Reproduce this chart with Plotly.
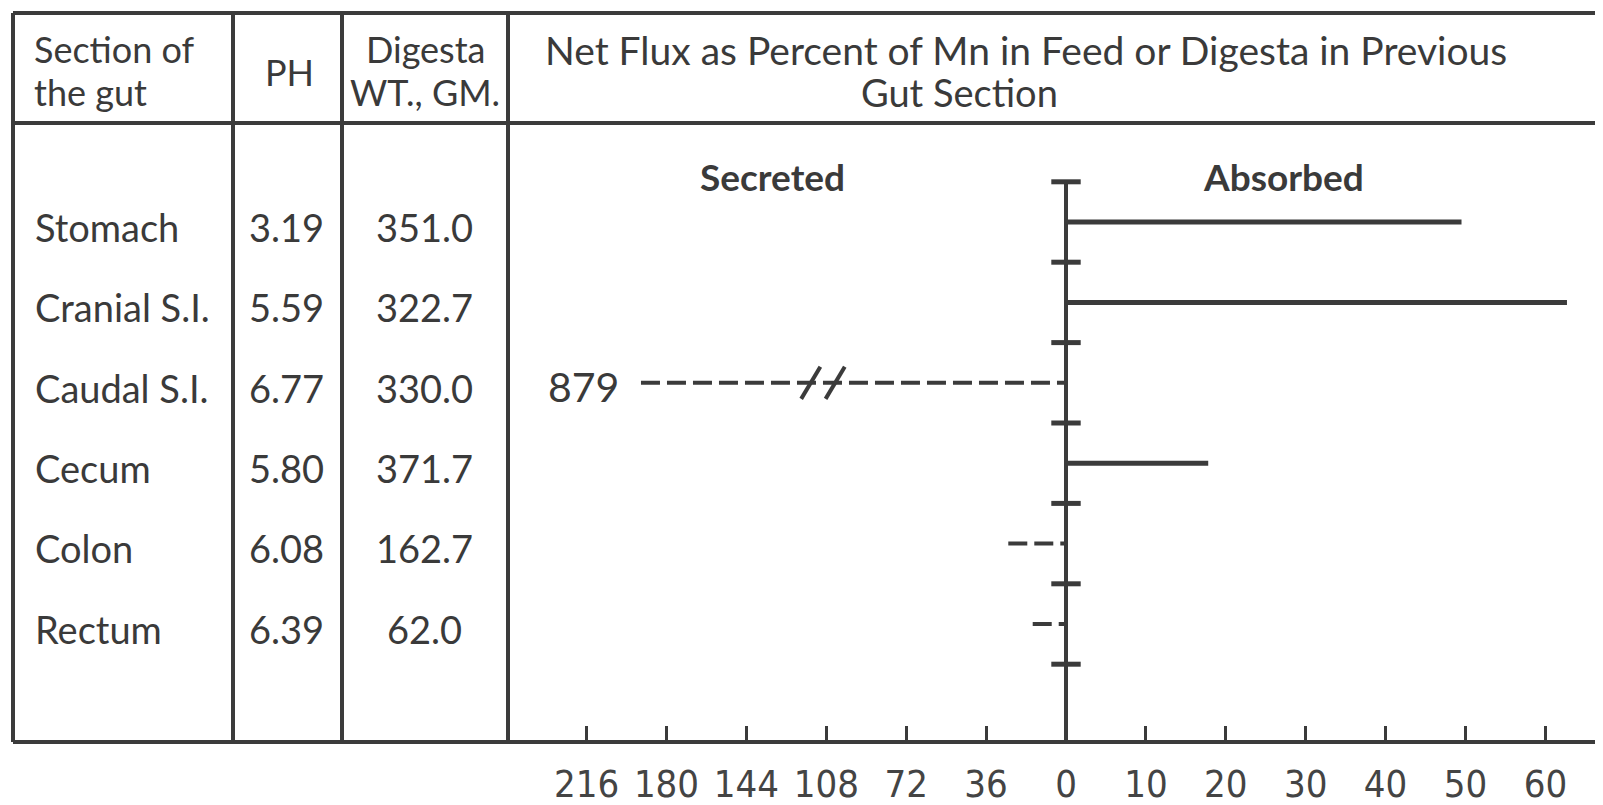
import plotly.graph_objects as go

# page body adds an 8px margin; the figure fills the rest of the 1603x805 window
OFF = 8
W, H = 1603 - OFF, 805 - OFF

# ---------------- data ----------------
sections = ["Stomach", "Cranial S.I.", "Caudal S.I.", "Cecum", "Colon", "Rectum"]
ph_values = ["3.19", "5.59", "6.77", "5.80", "6.08", "6.39"]
digesta_wt = ["351.0", "322.7", "330.0", "371.7", "162.7", "62.0"]
absorbed_pct = [49.5, 62.7, None, 17.8, None, None]
secreted_pct = [None, None, 879, None, 26, 15]
secreted_ticks = [216, 180, 144, 108, 72, 36]
absorbed_ticks = [0, 10, 20, 30, 40, 50, 60]
# off-scale bar (879) is drawn broken: it stops at this secreted value,
# with the break marks centred at these values
broken_bar_extent = 191.5
break_marks_at = [115, 104]

# ---------------- scale (two-sided axis) ----------------
SECRETED_PER_UNIT = 36.0
ABSORBED_PER_UNIT = 10.0


def sec(v):
    return -v / SECRETED_PER_UNIT


def absb(v):
    return v / ABSORBED_PER_UNIT


def px(x):
    return (x - OFF) / W


def py(y):
    return 1 - (y - OFF) / H


INK = "#3b3b3b"
TXT = "#3a3a3a"
FONT = "Lato, 'DejaVu Sans', sans-serif"
NARROW = "'Liberation Sans Narrow', 'DejaVu Sans Condensed', sans-serif"

# axis geometry (screen pixels)
X_ZERO_PX, X_UNIT_PX = 1066.0, 79.9
Y_ROW0_PX, Y_ROW_PX = 222.0, 80.4
BASE_PX = 742.0
x_range = [-(X_ZERO_PX - OFF) / X_UNIT_PX, (W - (X_ZERO_PX - OFF)) / X_UNIT_PX]
y_base = (BASE_PX - Y_ROW0_PX) / Y_ROW_PX
y_top = -(Y_ROW0_PX - OFF) / Y_ROW_PX

fig = go.Figure()

# zero (vertical) axis
fig.add_trace(go.Scatter(x=[0, 0], y=[-0.5, y_base], mode="lines",
                         line=dict(color=INK, width=4), hoverinfo="skip"))
# cross ticks between rows
fig.add_trace(go.Scatter(x=[0] * (len(sections) + 1),
                         y=[i - 0.5 for i in range(len(sections) + 1)],
                         mode="markers",
                         marker=dict(symbol="line-ew", size=21,
                                     line=dict(color=INK, width=5)),
                         hoverinfo="skip"))

# absorbed bars (solid)
for i, v in enumerate(absorbed_pct):
    if v is None:
        continue
    fig.add_trace(go.Scatter(x=[0, absb(v)], y=[i, i], mode="lines",
                             line=dict(color=INK, width=5), hoverinfo="skip"))

# secreted bars (dashed)
for i, v in enumerate(secreted_pct):
    if v is None:
        continue
    end = min(v, broken_bar_extent)
    fig.add_trace(go.Scatter(x=[sec(end), 0], y=[i, i], mode="lines",
                             line=dict(color=INK, width=4, dash="19px,7px"),
                             hoverinfo="skip"))
    if v > broken_bar_extent:
        for b in break_marks_at:
            xc = sec(b)
            fig.add_trace(go.Scatter(x=[xc - 0.12, xc + 0.12], y=[i + 0.2, i - 0.2],
                                     mode="lines", line=dict(color=INK, width=4),
                                     hoverinfo="skip"))
        fig.add_annotation(x=sec(end) - 0.25, y=i + 0.04, xref="x", yref="y",
                           text=str(v), showarrow=False, xanchor="right",
                           font=dict(family=FONT, size=41, color=TXT))

# table cells
for i, (s, p, d) in enumerate(zip(sections, ph_values, digesta_wt)):
    fig.add_annotation(x=px(33), y=i + 0.06, xref="paper", yref="y", text=s,
                       showarrow=False, xanchor="left",
                       font=dict(family=FONT, size=38, color=TXT))
    fig.add_annotation(x=px(286), y=i + 0.06, xref="paper", yref="y", text=p,
                       showarrow=False, xanchor="center",
                       font=dict(family=FONT, size=38, color=TXT))
    fig.add_annotation(x=px(424), y=i + 0.06, xref="paper", yref="y", text=d,
                       showarrow=False, xanchor="center",
                       font=dict(family=FONT, size=38, color=TXT))

# header texts: text, x, y (screen px), anchor, bold, size
headers = [
    ("Section of", 32, 49, "left", False, 36),
    ("the gut", 32, 92, "left", False, 36),
    ("PH", 289, 72, "center", False, 36),
    ("Digesta", 425, 49, "center", False, 36),
    ("WT., GM.", 425, 92, "center", False, 36),
    ("Net Flux as Percent of Mn in Feed or Digesta in Previous", 1026, 50, "center", False, 39),
    ("Gut Section", 959, 92, "center", False, 38),
    ("Secreted", 772, 176, "center", True, 37),
    ("Absorbed", 1283, 176, "center", True, 37),
]
for t, x, y, anc, bold, sz in headers:
    fig.add_annotation(x=px(x), y=py(y), xref="paper", yref="paper", text=t,
                       showarrow=False, xanchor=anc, yanchor="middle",
                       font=dict(family=FONT, size=sz, color=TXT,
                                 weight="bold" if bold else "normal"))

# table rules (screen px)
line = dict(color=INK, width=4)
shapes = [
    dict(type="line", xref="paper", yref="paper", x0=px(13), x1=1, y0=py(13), y1=py(13), line=line),
    dict(type="line", xref="paper", yref="paper", x0=px(13), x1=1, y0=py(123), y1=py(123), line=line),
    dict(type="line", xref="paper", yref="paper", x0=px(13), x1=1, y0=py(BASE_PX), y1=py(BASE_PX), line=line),
]
for xv in [13, 233, 342, 508]:
    shapes.append(dict(type="line", xref="paper", yref="paper", x0=px(xv), x1=px(xv),
                       y0=py(13), y1=py(BASE_PX), line=line))
fig.update_layout(shapes=shapes)

tickvals = [sec(t) for t in secreted_ticks] + [absb(t) for t in absorbed_ticks]
ticktext = [str(t) for t in secreted_ticks] + [str(t) for t in absorbed_ticks]

fig.update_layout(
    width=W, height=H,
    margin=dict(l=0, r=0, t=0, b=0),
    paper_bgcolor="white", plot_bgcolor="white",
    showlegend=False,
    xaxis=dict(range=x_range, domain=[0, 1], showgrid=False, zeroline=False,
               showline=False, ticks="inside", ticklen=16, tickwidth=3,
               tickcolor=INK, tickvals=tickvals, ticktext=ticktext,
               tickfont=dict(family=NARROW, size=38, color="#444"),
               ticklabelstandoff=16, fixedrange=True),
    yaxis=dict(range=[y_base, y_top], domain=[1 - (BASE_PX - OFF) / H, 1], visible=False,
               showgrid=False, zeroline=False, fixedrange=True),
)

fig.write_html("out.html")
